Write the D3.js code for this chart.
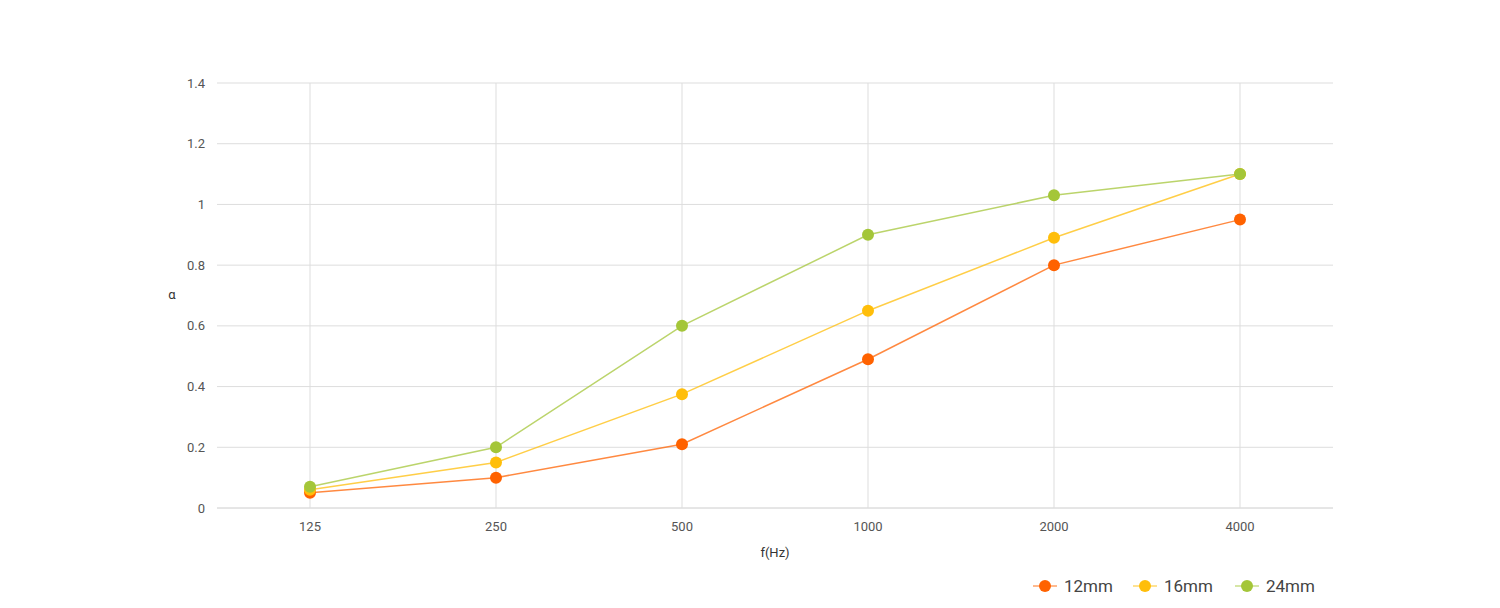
<!DOCTYPE html>
<html><head><meta charset="utf-8">
<script src="https://cdn.jsdelivr.net/npm/d3@7"></script>
<style>body{margin:0;background:#fff;font-family:Roboto,sans-serif}</style>
</head><body>
<script>
const freqs = ["125", "250", "500", "1000", "2000", "4000"];
const seriesNames = ["12mm", "16mm", "24mm"];
const colors = ["#ff6200", "#ffbe0a", "#a4c639"];
const s12 = [0.05, 0.10, 0.21, 0.49, 0.80, 0.95];
const s16 = [0.06, 0.15, 0.375, 0.65, 0.89, 1.10];
const s24 = [0.07, 0.20, 0.60, 0.90, 1.03, 1.10];
const yTicks = [0, 0.2, 0.4, 0.6, 0.8, 1, 1.2, 1.4];
const series = [s12, s16, s24];

const svg = d3.select("body").append("svg").attr("width", 1500).attr("height", 608);
const x = d3.scalePoint().domain(freqs).range([217, 1333]).padding(0.5);
const y = d3.scaleLinear().domain([0, 1.4]).range([508, 83]);

const g = svg.append("g");
g.selectAll("line.h").data(yTicks).enter().append("line")
  .attr("x1", 217).attr("x2", 1333).attr("y1", d => y(d)).attr("y2", d => y(d))
  .attr("stroke", d => d === 0 ? "#ccc" : "#ddd");
g.selectAll("line.v").data(freqs).enter().append("line")
  .attr("x1", d => x(d)).attr("x2", d => x(d)).attr("y1", 83).attr("y2", 508)
  .attr("stroke", "#ddd");
g.selectAll("text.y").data(yTicks).enter().append("text")
  .attr("x", 205).attr("y", d => y(d)).attr("dy", "0.35em").attr("text-anchor", "end")
  .attr("font-size", 13).attr("fill", "#555").text(d => d);
g.selectAll("text.x").data(freqs).enter().append("text")
  .attr("x", d => x(d)).attr("y", 531).attr("text-anchor", "middle")
  .attr("font-size", 13).attr("fill", "#555").text(d => d);
svg.append("text").attr("x", 775).attr("y", 557).attr("text-anchor", "middle")
  .attr("font-size", 13).attr("fill", "#333").text("f(Hz)");
svg.append("text").attr("x", 172).attr("y", 299).attr("text-anchor", "middle")
  .attr("font-size", 13).attr("fill", "#333").text("α");

const line = d3.line().x((d, i) => x(freqs[i])).y(d => y(d));
series.forEach((s, k) => {
  svg.append("path").attr("d", line(s)).attr("fill", "none")
    .attr("stroke", colors[k]).attr("stroke-opacity", 0.75).attr("stroke-width", 1.5);
});
series.forEach((s, k) => {
  svg.selectAll(null).data(s).enter().append("circle")
    .attr("cx", (d, i) => x(freqs[i])).attr("cy", d => y(d)).attr("r", 6)
    .attr("fill", colors[k]);
});

const legX = [1033, 1133, 1235];
seriesNames.forEach((n, k) => {
  const lg = svg.append("g").attr("transform", `translate(${legX[k]},586)`);
  lg.append("line").attr("x1", 0).attr("x2", 24).attr("stroke", colors[k]).attr("stroke-opacity", 0.6).attr("stroke-width", 1.5);
  lg.append("circle").attr("cx", 12).attr("r", 6).attr("fill", colors[k]);
  lg.append("text").attr("x", 31).attr("dy", "0.35em").attr("font-size", 17).attr("fill", "#444").text(n);
});
</script>
</body></html>
